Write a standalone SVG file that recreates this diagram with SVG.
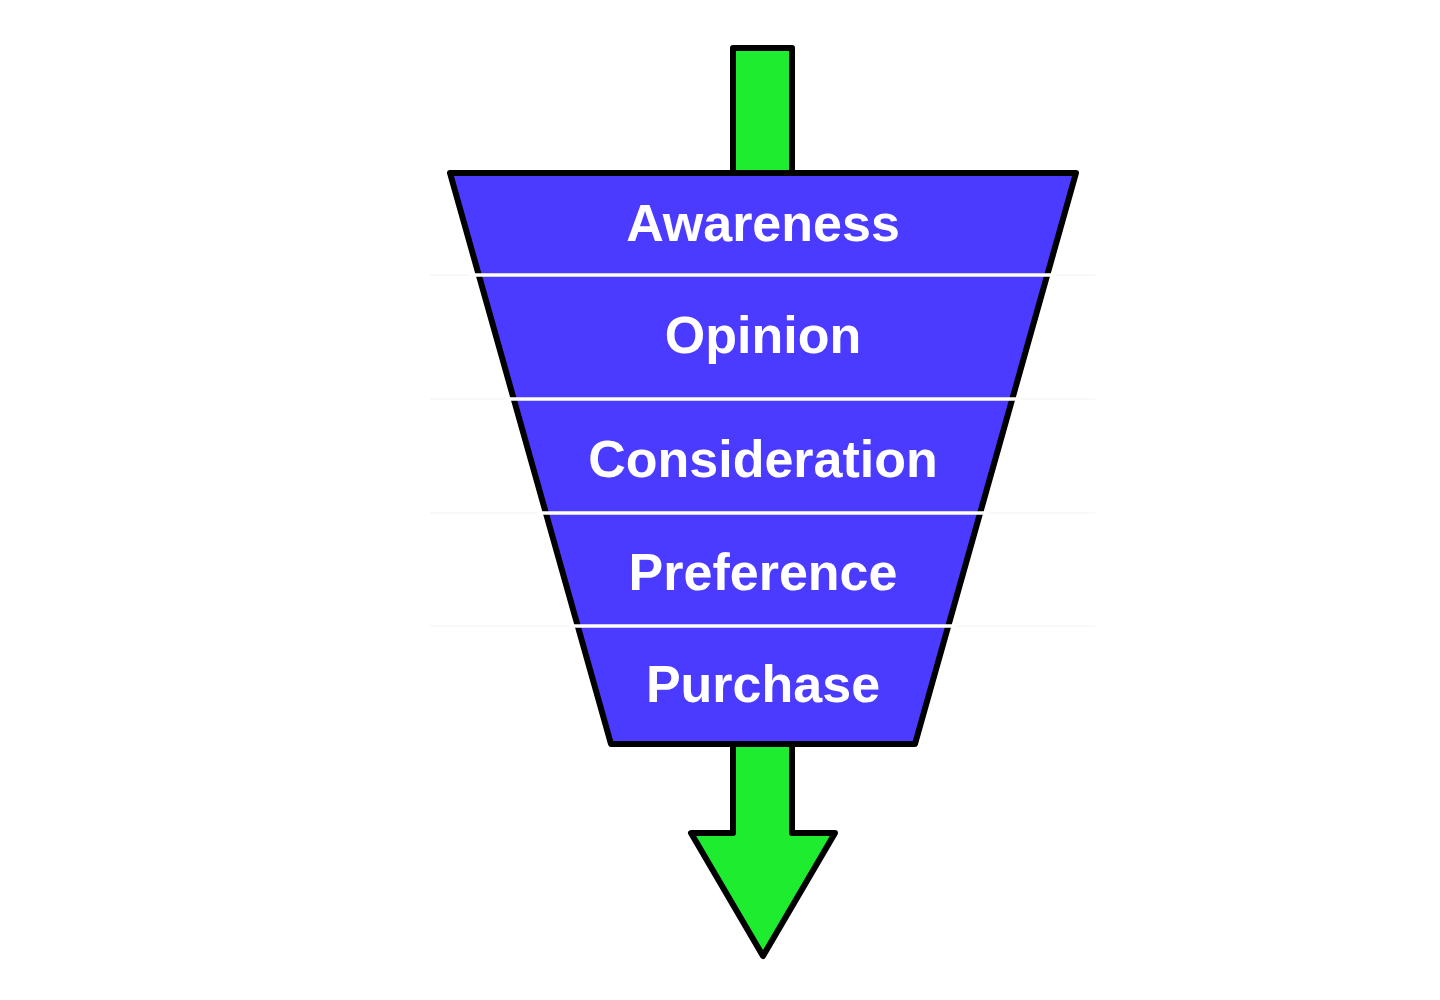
<svg xmlns="http://www.w3.org/2000/svg" width="1440" height="1000" viewBox="0 0 1440 1000">
<style>
.arrow{fill:#1ded2e;stroke:#000;stroke-width:6;stroke-linejoin:round}
.funnel{fill:#4b3aff;stroke:#000;stroke-width:6;stroke-linejoin:round}
.sep{stroke:#fff;stroke-width:3.5}
.faint{stroke:#f2f2f2;stroke-width:1}
.lbl{font-family:"Liberation Sans",Arial,sans-serif;font-weight:bold;font-size:52px;fill:#fff;text-anchor:middle}
</style>
<rect width="1440" height="1000" fill="#fff"/>
<g id="connectors">
<rect class="arrow" x="733" y="48" width="59" height="125"/>
<polygon class="arrow" points="733,744 792,744 792,833 835,833 763,956 691,833 733,833"/>
</g>
<g id="funnel">
<polygon class="funnel" points="450,173 1076,173 915,744 611,744"/>
<line class="faint" x1="430" y1="275" x2="1095" y2="275"/>
<line class="faint" x1="430" y1="399" x2="1095" y2="399"/>
<line class="faint" x1="430" y1="513" x2="1095" y2="513"/>
<line class="faint" x1="430" y1="626" x2="1095" y2="626"/>
<line class="sep" x1="470" y1="275" x2="1056" y2="275"/>
<line class="sep" x1="505" y1="399" x2="1021" y2="399"/>
<line class="sep" x1="537" y1="513" x2="989" y2="513"/>
<line class="sep" x1="569" y1="626" x2="957" y2="626"/>
</g>
<g id="awareness"><text class="lbl" x="763" y="241">Awareness</text></g>
<g id="opinion"><text class="lbl" x="763" y="353">Opinion</text></g>
<g id="consideration"><text class="lbl" x="763" y="477">Consideration</text></g>
<g id="preference"><text class="lbl" x="763" y="590">Preference</text></g>
<g id="purchase"><text class="lbl" x="763" y="702">Purchase</text></g>
</svg>
